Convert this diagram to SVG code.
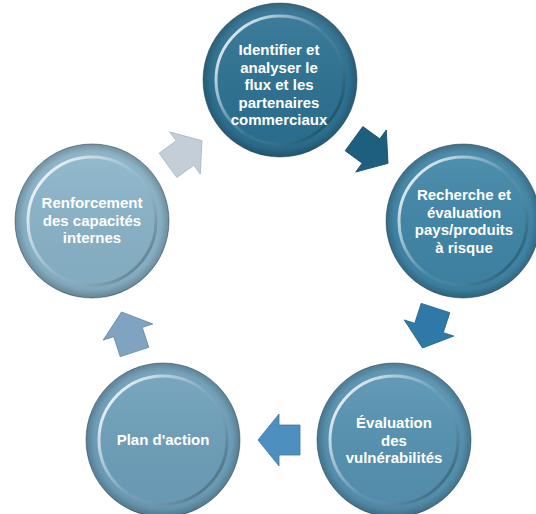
<svg xmlns="http://www.w3.org/2000/svg" width="536" height="514" viewBox="0 0 536 514">
  <defs>
    <style>
      .lbl { fill: #ffffff; font-family: "Liberation Sans", Arial, sans-serif; font-weight: bold; font-size: 15px; text-anchor: middle; }
      .edge { stroke: #33566a; stroke-opacity: 0.55; stroke-width: 1; }
      .arrow { stroke-width: 0.8; stroke-linejoin: miter; }
    </style>
    <radialGradient id="rimShade" cx="0.5" cy="0.5" r="0.5">
      <stop offset="0.80" stop-color="#000" stop-opacity="0"/>
      <stop offset="0.9" stop-color="#000" stop-opacity="0.04"/>
      <stop offset="1" stop-color="#000" stop-opacity="0.22"/>
    </radialGradient>
    <linearGradient id="outerSheen" x1="0" y1="0" x2="0" y2="1">
      <stop offset="0" stop-color="#fff" stop-opacity="0.10"/>
      <stop offset="0.6" stop-color="#fff" stop-opacity="0"/>
      <stop offset="1" stop-color="#000" stop-opacity="0.06"/>
    </linearGradient>
    <linearGradient id="bevel" x1="0.1" y1="0.2" x2="0.9" y2="0.8">
      <stop offset="0" stop-color="#fff" stop-opacity="0.8"/>
      <stop offset="0.3" stop-color="#fff" stop-opacity="0.35"/>
      <stop offset="0.55" stop-color="#fff" stop-opacity="0.05"/>
      <stop offset="1" stop-color="#000" stop-opacity="0.22"/>
    </linearGradient>
    <linearGradient id="innerSheen" x1="0" y1="0" x2="0" y2="1">
      <stop offset="0" stop-color="#fff" stop-opacity="0.08"/>
      <stop offset="1" stop-color="#000" stop-opacity="0.04"/>
    </linearGradient>
    <path id="arr" d="M-21,-15 L0,-15 L0,-26 L21,0 L0,26 L0,15 L-21,15 Z"/>
  </defs>

  <g id="connectors">
    <use href="#arr" class="arrow" transform="translate(371,151) rotate(36)" fill="#1e5f7f" stroke="#174d68"/>
    <use href="#arr" class="arrow" transform="translate(429,328) rotate(108)" fill="#2e79a7" stroke="#246389"/>
    <use href="#arr" class="arrow" transform="translate(279,440) rotate(180)" fill="#4d8fbf" stroke="#3c77a3"/>
    <use href="#arr" class="arrow" transform="translate(128,332) rotate(252)" fill="#7fa3c1" stroke="#6689a8"/>
    <use href="#arr" class="arrow" transform="translate(185,153) rotate(-36)" fill="#c3ced8" stroke="#a9b6c2"/>
  </g>

  <g id="n1">
    <circle cx="280" cy="80" r="77" fill="#2c7192" class="edge"/>
    <circle cx="280" cy="80" r="77" fill="url(#outerSheen)"/>
    <circle cx="280" cy="80" r="77" fill="url(#rimShade)"/>
    <circle cx="280" cy="80" r="64" fill="#2c7192"/>
    <circle cx="280" cy="80" r="64" fill="url(#innerSheen)"/>
    <circle cx="280" cy="80" r="64" fill="none" stroke="url(#bevel)" stroke-width="3"/>
    <text class="lbl" x="279" y="55">Identifier et</text>
    <text class="lbl" x="279" y="72.5">analyser le</text>
    <text class="lbl" x="279" y="90">flux et les</text>
    <text class="lbl" x="279" y="107.5">partenaires</text>
    <text class="lbl" x="279" y="125">commerciaux</text>
  </g>

  <g id="n2">
    <circle cx="463" cy="221" r="77" fill="#3f85a7" class="edge"/>
    <circle cx="463" cy="221" r="77" fill="url(#outerSheen)"/>
    <circle cx="463" cy="221" r="77" fill="url(#rimShade)"/>
    <circle cx="463" cy="221" r="64" fill="#3f85a7"/>
    <circle cx="463" cy="221" r="64" fill="url(#innerSheen)"/>
    <circle cx="463" cy="221" r="64" fill="none" stroke="url(#bevel)" stroke-width="3"/>
    <text class="lbl" x="464" y="200">Recherche et</text>
    <text class="lbl" x="464" y="217.5">évaluation</text>
    <text class="lbl" x="464" y="235">pays/produits</text>
    <text class="lbl" x="464" y="252.5">à risque</text>
  </g>

  <g id="n3">
    <circle cx="394" cy="440" r="77" fill="#5592b1" class="edge"/>
    <circle cx="394" cy="440" r="77" fill="url(#outerSheen)"/>
    <circle cx="394" cy="440" r="77" fill="url(#rimShade)"/>
    <circle cx="394" cy="440" r="64" fill="#5592b1"/>
    <circle cx="394" cy="440" r="64" fill="url(#innerSheen)"/>
    <circle cx="394" cy="440" r="64" fill="none" stroke="url(#bevel)" stroke-width="3"/>
    <text class="lbl" x="394" y="428">Évaluation</text>
    <text class="lbl" x="394" y="445.5">des</text>
    <text class="lbl" x="394" y="463">vulnérabilités</text>
  </g>

  <g id="n4">
    <circle cx="163" cy="440" r="77" fill="#6d9fba" class="edge"/>
    <circle cx="163" cy="440" r="77" fill="url(#outerSheen)"/>
    <circle cx="163" cy="440" r="77" fill="url(#rimShade)"/>
    <circle cx="163" cy="440" r="64" fill="#6d9fba"/>
    <circle cx="163" cy="440" r="64" fill="url(#innerSheen)"/>
    <circle cx="163" cy="440" r="64" fill="none" stroke="url(#bevel)" stroke-width="3"/>
    <text class="lbl" x="163" y="445">Plan d'action</text>
  </g>

  <g id="n5">
    <circle cx="92" cy="221" r="77" fill="#89b3c8" class="edge"/>
    <circle cx="92" cy="221" r="77" fill="url(#outerSheen)"/>
    <circle cx="92" cy="221" r="77" fill="url(#rimShade)"/>
    <circle cx="92" cy="221" r="64" fill="#89b3c8"/>
    <circle cx="92" cy="221" r="64" fill="url(#innerSheen)"/>
    <circle cx="92" cy="221" r="64" fill="none" stroke="url(#bevel)" stroke-width="3"/>
    <text class="lbl" x="92" y="208">Renforcement</text>
    <text class="lbl" x="92" y="225.5">des capacités</text>
    <text class="lbl" x="92" y="243">internes</text>
  </g>
</svg>
